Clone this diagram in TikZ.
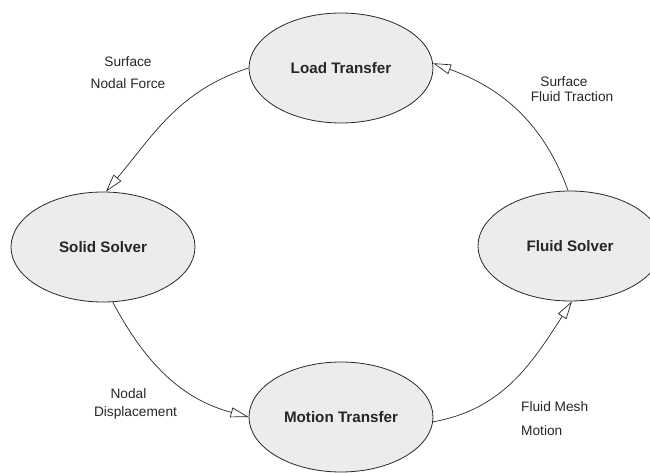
\documentclass[tikz,border=0pt]{standalone}
\usepackage{fontspec}
\setmainfont{Liberation Sans}
\usetikzlibrary{shapes.geometric,arrows.meta}
\definecolor{ellfill}{RGB}{236,236,236}
\definecolor{linecol}{RGB}{40,40,40}
\tikzset{
  stage/.style={ellipse, draw=linecol, line width=0.8pt, fill=ellfill,
    minimum width=184pt, minimum height=110pt, inner sep=0pt,
    font=\fontsize{15.2}{18}\selectfont\bfseries, text=black!85},
  lbl/.style={inner sep=0pt, font=\fontsize{13.7}{16}\selectfont, text=black!85},
  flow/.style={draw=linecol, line width=0.7pt,
    -{Triangle[length=18pt, width=10pt, fill=white, line width=0.7pt]}}
}
\begin{document}
\begin{tikzpicture}[x=1pt,y=1pt]
\useasboundingbox (0,0) rectangle (650,472);
\node[stage] (L) at (341,404) {Load Transfer};
\node[stage] (S) at (103,225) {Solid Solver};
\node[stage] (F) at (570,226) {Fluid Solver};
\node[stage] (M) at (341,55) {Motion Transfer};

\draw[flow] (L.180) to[out=198, in=50] (S.87);
\draw[flow] (S.-80) to[out=-62, in=165] (M.180);
\draw[flow] (M.-3) to[out=10, in=237] (F.-88);
\draw[flow] (F.92) to[out=110, in=340] (L.3);

\node[lbl] (l1a) at (128,410) {Surface};
\node[lbl] (l1b) at (128,388) {Nodal Force};
\node[lbl] (l2a) at (128.5,78) {Nodal};
\node[lbl] (l2b) at (135.5,59) {Displacement};
\node[lbl, anchor=west] (l3a) at (521,65) {Fluid Mesh};
\node[lbl, anchor=west] (l3b) at (521,41) {Motion};
\node[lbl] (l4a) at (564,390) {Surface};
\node[lbl] (l4b) at (572,375) {Fluid Traction};
\end{tikzpicture}
\end{document}
